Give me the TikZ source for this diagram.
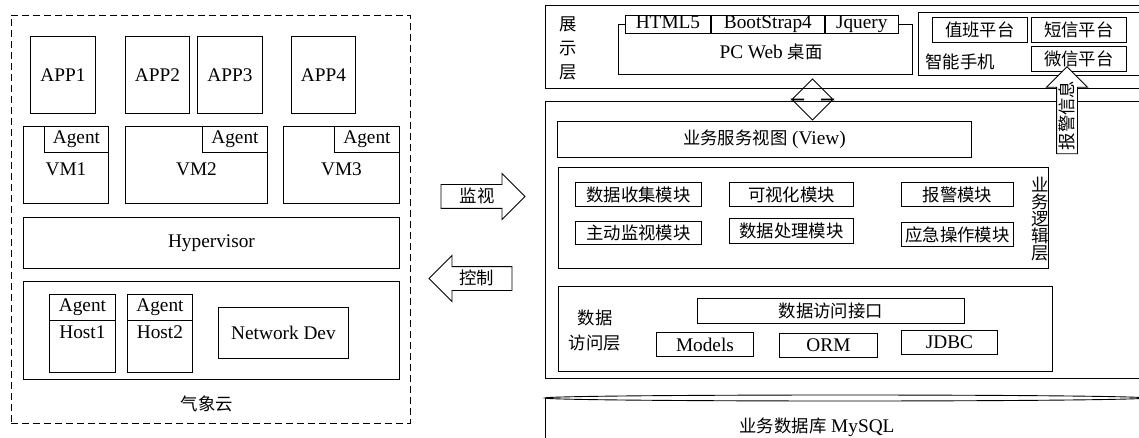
\documentclass[tikz,border=0pt]{standalone}
\usepackage{fontspec}
\setmainfont{Liberation Serif}
\newfontfamily\cjk[Scale=0.9]{Noto Sans CJK SC}
\usetikzlibrary{positioning, shapes.arrows}

\tikzset{
    wh/.style 2 args={minimum width=#1, minimum height=#2},
    box/.style={draw, line width=.9pt, inner sep=1pt, anchor=north west},
    tag/.style={draw, line width=.9pt, inner sep=0pt, minimum height=26},
    tab/.style={draw, line width=.9pt, fill=white, inner sep=0pt,
        text height=13pt, text depth=4pt, anchor=north west},
    bigarrow/.style={draw, line width=.9pt, fill=white, single arrow,
        single arrow tip angle=90, inner xsep=2pt, inner ysep=3.5pt,
        text height=14pt, text depth=2pt},
    vtext/.style={align=center, font=\fontsize{19.3}{#1}\selectfont\cjk},
}

\begin{document}
\lineskiplimit=-20pt
\begin{tikzpicture}[x=1pt, y=-1pt, font=\fontsize{19.3}{23}\selectfont]
    \useasboundingbox (0,0) rectangle (1139,438);
    \clip (0,0) rectangle (1139,438);

    % cloud side
    \node[box, dash pattern=on 7pt off 4pt, wh={399}{408}] (cloud) at (11,15) {};
    \node (cloudname) at (207,404) {\cjk 气象云};

    \node[box, wh={65}{77}] (app1) at (30,36) {APP1};
    \node[box, wh={64}{77}] (app2) at (125,36) {APP2};
    \node[box, wh={65}{77}] (app3) at (197,36) {APP3};
    \node[box, wh={64}{77}] (app4) at (291,36) {APP4};

    \node[box, wh={85}{77}] (vm1) at (23,126) {};
    \node[box, wh={142}{77}] (vm2) at (125,126) {};
    \node[box, wh={116}{77}] (vm3) at (283,126) {};
    \foreach \v/\w in {1/64, 2/65, 3/65} {
        \node[tag, anchor=north east, minimum width=\w] (agentvm\v) at (vm\v.north east) {Agent};
        \node (vmname\v) at ([yshift=-4.5pt]vm\v.center) {VM\v};
    }

    \node[box, wh={376}{51}] (hyper) at (23,217) {Hypervisor};

    \node[box, wh={376}{98}] (hw) at (23,281) {};
    \node[box, wh={66}{78}] (host1) at (49,294) {};
    \node[box, wh={65}{78}] (host2) at (127,294) {};
    \foreach \h/\w in {1/66, 2/65} {
        \node[tag, anchor=north, minimum width=\w] (agenthost\h) at (host\h.north) {Agent};
        \node[below=1pt of agenthost\h] (hostname\h) {Host\h};
    }
    \node[box, wh={130}{51}] (netdev) at (218,307) {Network Dev};

    % monitor / control
    \node[bigarrow, minimum height=84, single arrow head extend=11pt] (watch) at (477,196.5) {\cjk 监视};
    \node[bigarrow, minimum height=83, single arrow head extend=11pt,
        shape border rotate=180] (ctrl) at (476.5,278.5) {\cjk 控制};

    % presentation layer
    \node[box, wh={600}{83}] (show) at (545,5) {};
    \node[vtext=24] (showname) at (568,48.5) {展\\示\\层};
    \node[box, wh={294}{50}] (pc) at (618,24) {};
    \node (pcname) at (771,52) {PC Web {\cjk 桌面}};
    \node[tab, wh={85}{18}] (html) at (625,15) {HTML5};
    \node[tab, wh={113}{18}] (bs) at (html.north east) {BootStrap4};
    \node[tab, wh={73}{18}] (jq) at (bs.north east) {Jquery};

    \node[box, wh={230}{63}] (phone) at (918,12) {};
    \node[box, wh={95}{25}] (duty) at (932,17) {\cjk 值班平台};
    \node[box, wh={95}{25}] (sms) at (1031,17) {\cjk 短信平台};
    \node[box, wh={95}{25}] (wechat) at (1031,46) {\cjk 微信平台};
    \node (phonename) at (960,62) {\cjk 智能手机};

    % service side
    \node[box, wh={600}{277}] (biz) at (545,101) {};
    \node[draw, line width=.9pt, double arrow, double arrow tip angle=90,
        double arrow head extend=12pt, inner xsep=0pt, inner ysep=8.5pt,
        minimum height=41, rotate=90] (link) at (812.5,99.5) {};
    \node[bigarrow, rotate=90, inner ysep=2pt, minimum height=87,
        single arrow head extend=10pt] (alarmmsg) at (1067,115.5) {\cjk 报警信息};

    \node[box, wh={414}{36}] (view) at (557,121) {{\cjk 业务服务视图} (View)};

    \node[box, wh={490}{101}] (logic) at (558,167) {};
    \node[vtext=17] (logicname) at (1040,219) {业\\务\\逻\\辑\\层};
    \node[box, wh={126}{24}] (collect) at (575,182) {\cjk 数据收集模块};
    \node[box, wh={124}{24}] (visual) at (729,182) {\cjk 可视化模块};
    \node[box, wh={112}{24}] (alarm) at (901,182) {\cjk 报警模块};
    \node[box, wh={126}{23}] (active) at (575,221) {\cjk 主动监视模块};
    \node[box, wh={124}{25}] (process) at (729,218) {\cjk 数据处理模块};
    \node[box, wh={112}{24}] (urgent) at (901,222) {\cjk 应急操作模块};

    \node[box, wh={494}{85}] (dao) at (558,286) {};
    \node[vtext=25] (daoname) at (595,330.5) {数据\\访问层};
    \node[box, wh={267}{25}] (api) at (697,298) {\cjk 数据访问接口};
    \node[box, wh={97}{24}] (models) at (656,332) {Models};
    \node[box, wh={98}{24}] (orm) at (779,333) {ORM};
    \node[box, wh={96}{24}] (jdbc) at (901,330) {JDBC};

    % database
    \draw[line width=.9pt] (545,440) -- (545,398);
    \draw[line width=.9pt] (845,398) ellipse [x radius=300, y radius=3];
    \node[inner sep=1pt] (db) at (817,427) {{\cjk 业务数据库} MySQL};
\end{tikzpicture}
\end{document}
